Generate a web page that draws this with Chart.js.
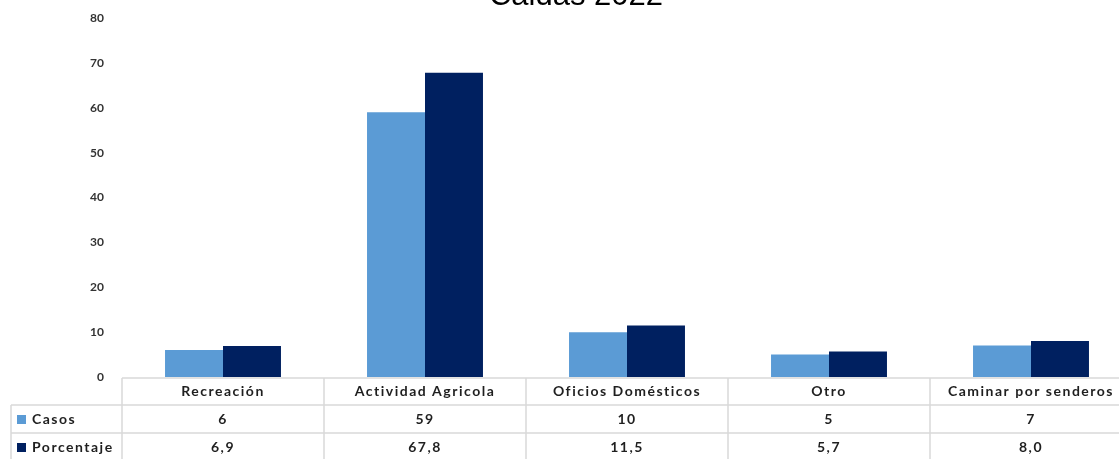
<!DOCTYPE html>
<html>
<head>
<meta charset="utf-8">
<script src="https://cdn.jsdelivr.net/npm/chart.js@4"></script>
<style>
html,body{margin:0;padding:0;background:#fff;overflow:hidden;}
#wrap{width:1140px;height:459px;position:relative;}
</style>
</head>
<body>
<div id="wrap"><canvas id="c"></canvas></div>
<script>
const title = "Caldas 2022";
const categories = ["Recreación", "Actividad Agricola", "Oficios Domésticos", "Otro", "Caminar por senderos"];
const casos = [6, 59, 10, 5, 7];
const porcentaje = [6.9, 67.8, 11.5, 5.7, 8.0];
const casosLabels = ["6", "59", "10", "5", "7"];
const porcentajeLabels = ["6,9", "67,8", "11,5", "5,7", "8,0"];
const seriesNames = ["Casos", "Porcentaje"];
const colors = ["#5B9BD5", "#002060"];

const tablePlugin = {
  id: 'dataTable',
  afterDraw(chart) {
    const ctx = chart.ctx;
    const ca = chart.chartArea;
    const xs = chart.scales.x;
    const n = categories.length;
    const colW = xs.getPixelForValue(1) - xs.getPixelForValue(0);
    const left = ca.left, right = ca.right;
    const y0 = ca.bottom + 1, y1 = y0 + 27, y2 = y1 + 28, y3 = y2 + 28;
    const labelLeft = 11;
    ctx.save();
    ctx.strokeStyle = '#D9D9D9';
    ctx.lineWidth = 1.5;
    ctx.beginPath();
    ctx.moveTo(left, y0); ctx.lineTo(right, y0);
    ctx.moveTo(labelLeft, y1); ctx.lineTo(right, y1);
    ctx.moveTo(labelLeft, y2); ctx.lineTo(right, y2);
    ctx.moveTo(labelLeft, y1); ctx.lineTo(labelLeft, y3);
    for (let i = 0; i <= n; i++) {
      const x = (i < n ? xs.getPixelForValue(i) - colW / 2 : xs.getPixelForValue(n - 1) + colW / 2);
      ctx.moveTo(x, y0); ctx.lineTo(x, y3);
    }
    ctx.stroke();
    ctx.fillStyle = '#1f1f1f';
    ctx.font = 'bold 14px Lato';
    ctx.letterSpacing = '1.5px';
    ctx.textAlign = 'center';
    ctx.textBaseline = 'middle';
    for (let i = 0; i < n; i++) {
      const x = xs.getPixelForValue(i);
      ctx.fillText(categories[i], x, (y0 + y1) / 2);
      ctx.fillText(casosLabels[i], x, (y1 + y2) / 2);
      ctx.fillText(porcentajeLabels[i], x, (y2 + y3) / 2);
    }
    ctx.textAlign = 'left';
    const rows = [[y1, y2], [y2, y3]];
    rows.forEach((r, k) => {
      const cy = (r[0] + r[1]) / 2;
      ctx.fillStyle = colors[k];
      ctx.fillRect(labelLeft + 6, cy - 4, 9, 9);
      ctx.fillStyle = '#1f1f1f';
      ctx.fillText(seriesNames[k], labelLeft + 21, cy);
    });
    ctx.letterSpacing = '0px';
    // title
    ctx.fillStyle = '#000';
    ctx.font = '31px "Liberation Sans", Arial, sans-serif';
    ctx.textAlign = 'center';
    ctx.textBaseline = 'alphabetic';
    ctx.fillText(title, (ca.left + ca.right) / 2 - 51, 5);
    ctx.restore();
  }
};

new Chart(document.getElementById('c'), {
  type: 'bar',
  data: {
    labels: categories,
    datasets: [
      { label: seriesNames[0], data: casos, backgroundColor: colors[0] },
      { label: seriesNames[1], data: porcentaje, backgroundColor: colors[1] }
    ]
  },
  options: {
    responsive: true,
    maintainAspectRatio: false,
    animation: false,
    devicePixelRatio: 1,
    layout: { padding: { top: 18, bottom: 82, left: 0, right: 8 } },
    datasets: { bar: { categoryPercentage: 0.574, barPercentage: 1.0 } },
    plugins: { legend: { display: false }, tooltip: { enabled: false }, title: { display: false } },
    scales: {
      x: { display: false },
      y: {
        min: 0, max: 80,
        ticks: { stepSize: 10, padding: 18, color: '#333333', font: { family: 'Lato', weight: 'bold', size: 12 } },
        grid: { display: false, drawTicks: false },
        border: { display: false },
        afterFit(scale) { scale.width = 122; scale.paddingTop = 0; scale.paddingBottom = 0; }
      }
    }
  },
  plugins: [tablePlugin]
});
</script>
</body>
</html>
